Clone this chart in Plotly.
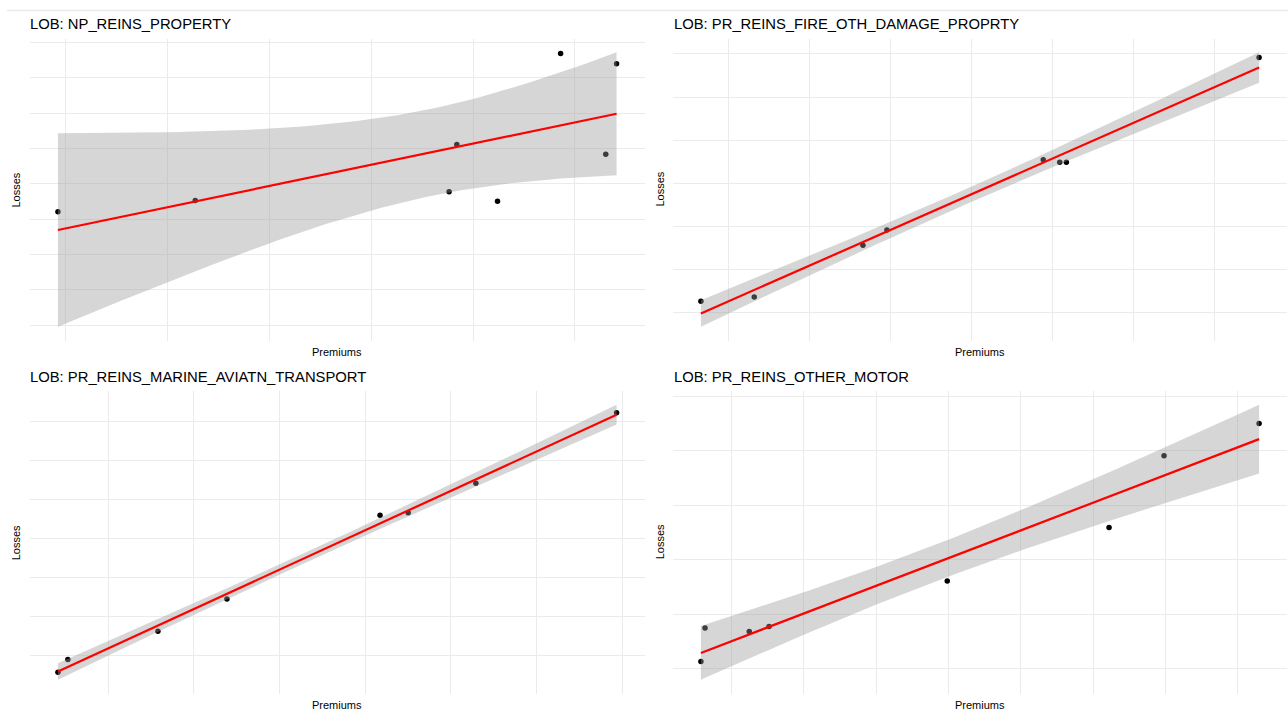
import numpy as np
import plotly.graph_objects as go

W, H = 1288, 711

# Premiums vs losses for each line of business (arbitrary units, no tick labels shown)
lob_names = [
    "NP_REINS_PROPERTY",
    "PR_REINS_FIRE_OTH_DAMAGE_PROPRTY",
    "PR_REINS_MARINE_AVIATN_TRANSPORT",
    "PR_REINS_OTHER_MOTOR",
]

property_premiums = [9.28, 22.75, 47.65, 48.41, 52.40, 58.59, 63.02, 64.08]
property_losses = [42.11, 45.30, 47.76, 61.12, 45.10, 86.81, 58.38, 83.91]

fire_premiums = [6.59, 13.17, 26.58, 29.54, 48.83, 50.86, 51.68, 75.46]
fire_losses = [12.68, 13.69, 25.69, 29.22, 45.45, 44.92, 44.92, 69.15]

marine_premiums = [4.14, 5.30, 15.81, 23.86, 41.73, 45.01, 52.91, 69.33]
marine_losses = [5.84, 9.08, 16.31, 24.55, 46.00, 46.61, 54.17, 72.22]

motor_premiums = [5.78, 6.35, 12.46, 15.20, 39.83, 62.19, 69.79, 82.93]
motor_losses = [11.29, 17.47, 16.79, 17.71, 26.10, 35.95, 49.11, 55.04]

series = [
    (property_premiums, property_losses),
    (fire_premiums, fire_losses),
    (marine_premiums, marine_losses),
    (motor_premiums, motor_losses),
]

# Student t 0.975 quantiles by residual degrees of freedom
T975 = {3: 3.182446, 4: 2.776445, 5: 2.570582, 6: 2.446912, 7: 2.364624,
        8: 2.306004, 9: 2.262157, 10: 2.228139}

# Panel boxes in pixels: (left, right, top, bottom)
boxes = [
    (30.0, 644.5, 38.6, 340.5),
    (673.0, 1287.0, 38.6, 340.5),
    (30.0, 644.5, 391.0, 693.5),
    (673.0, 1287.0, 391.0, 693.5),
]

GRID = "#EBEBEB"
FONT = "Liberation Sans, Arial, sans-serif"


def lm_fit(x, y, n_out=80):
    x = np.asarray(x, float)
    y = np.asarray(y, float)
    n = len(x)
    xm, ym = x.mean(), y.mean()
    sxx = ((x - xm) ** 2).sum()
    b = ((x - xm) * (y - ym)).sum() / sxx
    a = ym - b * xm
    resid = y - (a + b * x)
    s = np.sqrt((resid ** 2).sum() / (n - 2))
    xs = np.linspace(x.min(), x.max(), n_out)
    fit = a + b * xs
    se = s * np.sqrt(1.0 / n + (xs - xm) ** 2 / sxx)
    t = T975[n - 2]
    return xs, fit, fit - t * se, fit + t * se


def expand(lo, hi, frac=0.05):
    span = hi - lo
    return [lo - frac * span, hi + frac * span]


fig = go.Figure()
layout_axes = {}

for i, ((px, py), name, box) in enumerate(zip(series, lob_names, boxes)):
    k = "" if i == 0 else str(i + 1)
    xa, ya = "x" + k, "y" + k
    xs, fit, lo, hi = lm_fit(px, py)

    # points
    fig.add_trace(go.Scatter(
        x=px, y=py, mode="markers", xaxis=xa, yaxis=ya,
        marker=dict(color="black", size=5.5), showlegend=False, hoverinfo="skip"))
    # confidence ribbon
    fig.add_trace(go.Scatter(
        x=np.concatenate([xs, xs[::-1]]), y=np.concatenate([hi, lo[::-1]]),
        mode="lines", fill="toself", fillcolor="rgba(153,153,153,0.4)",
        line=dict(width=0), xaxis=xa, yaxis=ya, showlegend=False, hoverinfo="skip"))
    # fitted line
    fig.add_trace(go.Scatter(
        x=xs, y=fit, mode="lines", line=dict(color="red", width=2.2),
        xaxis=xa, yaxis=ya, showlegend=False, hoverinfo="skip"))

    x0, x1, y0, y1 = box
    xr = expand(min(px), max(px))
    yr = expand(min(min(py), lo.min()), max(max(py), hi.max()))
    axis_common = dict(showticklabels=False, ticks="", zeroline=False,
                       showline=False, showgrid=True, gridcolor=GRID,
                       gridwidth=1, dtick=10, tick0=0)
    layout_axes["xaxis" + k] = dict(domain=[x0 / W, x1 / W], range=xr,
                                    anchor=ya, **axis_common)
    layout_axes["yaxis" + k] = dict(domain=[1 - y1 / H, 1 - y0 / H], range=yr,
                                    anchor=xa, **axis_common)

fig.update_layout(**layout_axes)

annotations = []
title_y = [24, 24, 377, 377]
xlab_y = [352, 352, 705, 705]
ylab_x = [16, 660, 16, 660]
for i, (name, box) in enumerate(zip(lob_names, boxes)):
    x0, x1, y0, y1 = box
    annotations.append(dict(
        text="LOB: " + name, x=(x0 - 2 if i % 2 == 0 else x0 - 1) / W, y=1 - title_y[i] / H,
        xref="paper", yref="paper", xanchor="left", yanchor="middle",
        showarrow=False, font=dict(family=FONT, size=14.8, color="black")))
    annotations.append(dict(
        text="Premiums", x=(x0 + x1) / 2 / W, y=1 - xlab_y[i] / H,
        xref="paper", yref="paper", xanchor="center", yanchor="middle",
        showarrow=False, font=dict(family=FONT, size=11, color="black")))
    annotations.append(dict(
        text="Losses", x=ylab_x[i] / W, y=1 - (y0 + y1) / 2 / H, textangle=-90,
        xref="paper", yref="paper", xanchor="center", yanchor="middle",
        showarrow=False, font=dict(family=FONT, size=11, color="black")))

fig.update_layout(
    width=W, height=H,
    margin=dict(l=0, r=0, t=0, b=0),
    paper_bgcolor="white", plot_bgcolor="white",
    annotations=annotations,
    shapes=[dict(type="line", xref="paper", yref="paper",
                 x0=7 / W, x1=1, y0=1 - 10.5 / H, y1=1 - 10.5 / H,
                 line=dict(color=GRID, width=1.5))],
    showlegend=False,
)

fig.write_html("out.html")
